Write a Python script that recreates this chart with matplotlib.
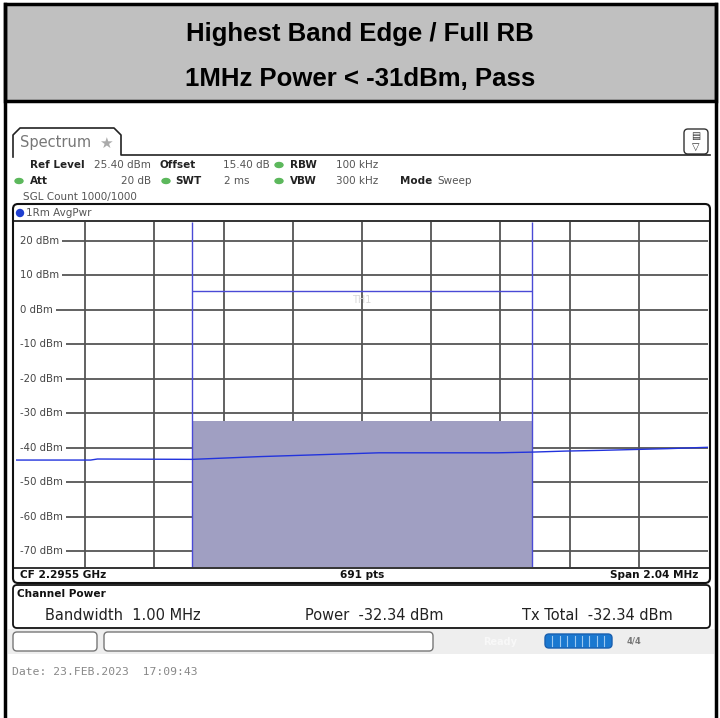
import numpy as np
import matplotlib.pyplot as plt
from matplotlib.patches import FancyBboxPatch, Rectangle, Ellipse

# chart values
title_lines = ["Highest Band Edge / Full RB", "1MHz Power < -31dBm, Pass"]
cf_mhz = 2295.5
span_mhz = 2.04
ref_level = 25.4
y_labels = [20, 10, 0, -10, -20, -30, -40, -50, -60, -70]
chan_lo, chan_hi = 2295.0, 2296.0
chan_power = -32.34
th1_level = 5.4
trace_f = [2294.48, 2294.70, 2294.72, 2295.00, 2295.20, 2295.55, 2295.90,
           2296.00, 2296.10, 2296.20, 2296.40, 2296.52]
trace_db = [-43.6, -43.6, -43.3, -43.4, -42.6, -41.5, -41.5,
            -41.3, -41.0, -40.8, -40.3, -39.9]

W, H = 720, 718
fig = plt.figure(figsize=(W / 100, H / 100), dpi=100)
bg = fig.add_axes([0, 0, 1, 1])
bg.set_xlim(0, W)
bg.set_ylim(H, 0)
bg.axis('off')

# table title row
bg.add_patch(Rectangle((5, 4), 711, 97, facecolor='#c0c0c0', edgecolor='black', lw=2.5))
bg.plot([5, 5], [4, H], color='black', lw=2.5)
bg.plot([716, 716], [4, H], color='black', lw=2.5)
bg.text(360, 34, title_lines[0], ha='center', va='center', fontsize=18.5,
        fontweight='bold', family='Liberation Sans')
bg.text(360, 79, title_lines[1], ha='center', va='center', fontsize=18.5,
        fontweight='bold', family='Liberation Sans')

# instrument header
txt = dict(family='DejaVu Sans', fontsize=7.5, color='#555555', va='center')
bold = dict(family='DejaVu Sans', fontsize=7.5, color='#222222', va='center', fontweight='bold')
bg.plot([13, 13, 20, 114, 121, 121, 710], [157, 135, 128, 128, 135, 155, 155],
        color='#222222', lw=1.2)
bg.text(20, 143, "Spectrum", family='DejaVu Sans', fontsize=10.5, color='#777777', va='center')
bg.text(106, 143, "\u2605", family='DejaVu Sans', fontsize=11, color='#aaaaaa', va='center', ha='center')
bg.add_patch(FancyBboxPatch((684, 129), 24, 25, boxstyle='round,pad=0,rounding_size=4',
                            facecolor='white', edgecolor='#333333', lw=1))
bg.text(696, 136, "\u25a4", fontsize=7, ha='center', va='center', color='#333333')
bg.text(696, 147, "\u25bd", fontsize=7, ha='center', va='center', color='#333333')

bg.text(30, 165, "Ref Level", **bold)
bg.text(94, 165, "25.40 dBm", **txt)
bg.text(160, 165, "Offset", **bold)
bg.text(223, 165, "15.40 dB", **txt)
bg.text(290, 165, "RBW", **bold)
bg.text(336, 165, "100 kHz", **txt)
bg.text(30, 181, "Att", **bold)
bg.text(151, 181, "20 dB", ha='right', **txt)
bg.text(175, 181, "SWT", **bold)
bg.text(250, 181, "2 ms", ha='right', **txt)
bg.text(290, 181, "VBW", **bold)
bg.text(336, 181, "300 kHz", **txt)
bg.text(400, 181, "Mode", **bold)
bg.text(437, 181, "Sweep", **txt)
bg.text(23, 197, "SGL Count 1000/1000", **txt)
for (ex, ey) in [(279, 165), (19, 181), (166, 181), (279, 181)]:
    bg.add_patch(Ellipse((ex, ey), 8, 5, color='#5cb85c'))

# diagram frame
bg.add_patch(FancyBboxPatch((13, 204), 697, 379, boxstyle='round,pad=0,rounding_size=5',
                            facecolor='white', edgecolor='#111111', lw=1.5))
bg.plot([13, 710], [221, 221], color='#111111', lw=1.2)
bg.plot([13, 710], [567.5, 567.5], color='#111111', lw=1.2)
bg.add_patch(Ellipse((20, 213), 7, 7, color='#1f3fd0'))
bg.text(26, 213, "1Rm AvgPwr", **txt)
foot = dict(family='DejaVu Sans', fontsize=7.6, fontweight='bold', color='#111111', va='center')
bg.text(20, 575, "CF 2.2955 GHz", **foot)
bg.text(362, 575, "691 pts", ha='center', **foot)
bg.text(698, 575, "Span 2.04 MHz", ha='right', **foot)

# channel power box
bg.add_patch(FancyBboxPatch((13, 585), 697, 43, boxstyle='round,pad=0,rounding_size=4',
                            facecolor='white', edgecolor='#111111', lw=1.3))
bg.text(17, 594, "Channel Power", **foot)
cp = dict(family='DejaVu Sans', fontsize=10.5, color='#222222', va='center')
bg.text(45, 616, "Bandwidth  1.00 MHz", **cp)
bg.text(305, 616, "Power  -32.34 dBm", **cp)
bg.text(522, 616, "Tx Total  -32.34 dBm", **cp)

# status bar
bg.add_patch(Rectangle((8, 629), 706, 25, facecolor='#eeeeee', edgecolor='none'))
bg.add_patch(FancyBboxPatch((13, 632), 84, 19, boxstyle='round,pad=0,rounding_size=4',
                            facecolor='white', edgecolor='#777777', lw=1))
bg.add_patch(FancyBboxPatch((104, 632), 329, 19, boxstyle='round,pad=0,rounding_size=4',
                            facecolor='white', edgecolor='#777777', lw=1))
bg.text(483, 642, "Ready", family='DejaVu Sans', fontsize=7, color='#f8f8f8',
        va='center', fontweight='bold')
bg.add_patch(FancyBboxPatch((545, 634), 67, 14, boxstyle='round,pad=0,rounding_size=4',
                            facecolor='#1a78d0', edgecolor='#1a60b0', lw=1))
for i in range(1, 9):
    bg.plot([545 + i * 7.4] * 2, [636, 646], color='#9cc8f0', lw=0.8)
bg.text(634, 641, "4/4", family='DejaVu Sans', fontsize=6, color='#777777',
        va='center', ha='center', fontweight='bold')
bg.text(12, 672, "Date: 23.FEB.2023  17:09:43", family='DejaVu Sans Mono', fontsize=8.2,
        color='#888888', va='center')

# spectrum trace
ax = fig.add_axes([16 / W, (H - 567) / H, 692 / W, 345 / H])
x0 = cf_mhz - span_mhz / 2
x1 = cf_mhz + span_mhz / 2
ymin = ref_level - 100
ax.set_xlim(x0, x1)
ax.set_ylim(ymin, ref_level)
ax.set_facecolor('none')
for s in ax.spines.values():
    s.set_visible(False)
ax.set_xticks([])
ax.set_yticks([])

grid_c = '#555555'
ax.hlines(y_labels, x0 + 0.012, x1, color=grid_c, lw=1.3, zorder=1)
ax.vlines(np.linspace(x0, x1, 11)[1:-1], ymin, ref_level, color=grid_c, lw=1.3, zorder=1)
for v in y_labels:
    ax.text(x0 + 0.013, v, f"{v} dBm", family='DejaVu Sans', fontsize=7.3, color='#444444',
            va='center', ha='left', zorder=3,
            bbox=dict(facecolor='white', edgecolor='none', pad=2.0))

ax.fill_between([chan_lo, chan_hi], ymin, chan_power, color='#a09fc2', lw=0, zorder=2)
ax.vlines([chan_lo, chan_hi], ymin, ref_level, color='#4a4ad6', lw=1, zorder=4)
ax.hlines(th1_level, chan_lo, chan_hi, color='#4a4ad6', lw=1, zorder=4)
ax.text((chan_lo + chan_hi) / 2, th1_level - 2.6, "TH1", family='DejaVu Sans', fontsize=7,
        color='#d8d8d8', ha='center', va='center', zorder=4)
ax.plot(trace_f, trace_db, color='#2233dd', lw=1, zorder=5)

fig.savefig('out.png', dpi=100)
